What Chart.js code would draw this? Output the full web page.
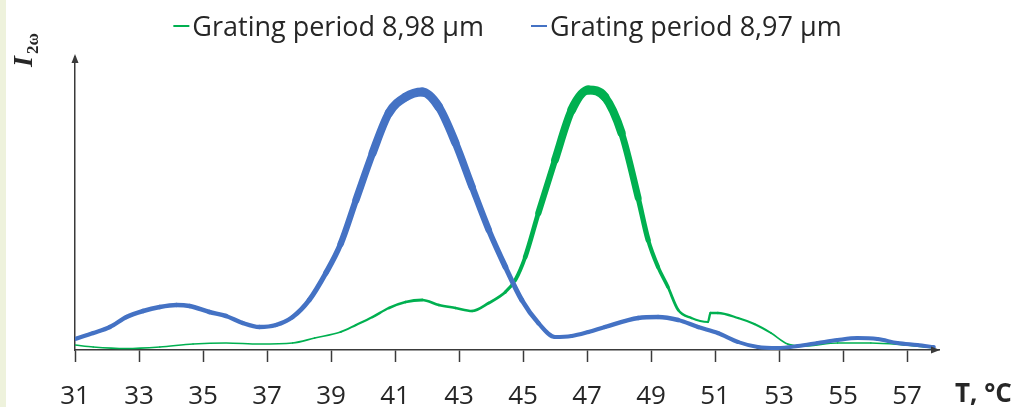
<!DOCTYPE html>
<html>
<head>
<meta charset="utf-8">
<script src="https://cdn.jsdelivr.net/npm/chart.js@4/dist/chart.umd.min.js"></script>
<style>
  html, body { margin: 0; padding: 0; background: #fff; }
  #wrap { position: relative; width: 1015px; height: 407px; }
  #strip { position: absolute; left: 0; top: 0; width: 6px; height: 407px; background: #eef2dc; }
</style>
</head>
<body>
<div id="wrap">
  <div id="strip"></div>
  <canvas id="myChart"></canvas>
</div>
<script>
// Werte (Temperatur in °C, Intensitaet in willkuerlichen Einheiten)
const xTicks = [31, 33, 35, 37, 39, 41, 43, 45, 47, 49, 51, 53, 55, 57];

const labelGreen = 'Grating period 8,98 µm';
const tGreen = [31.00, 31.57, 32.61, 33.65, 34.69, 35.72, 36.76, 37.80, 38.49, 39.30, 39.78, 40.30, 40.81, 41.33, 41.85,
  42.37, 42.89, 43.41, 43.93, 44.45, 44.76, 45.07, 45.48, 46.00, 46.52, 47.04, 47.56, 48.08, 48.60, 48.91,
  49.22, 49.53, 49.85, 50.26, 50.78, 50.86, 51.09, 51.72, 52.23, 52.75, 53.27, 53.79, 54.83, 55.87, 56.91, 57.84];
const iGreen = [5, 3, 1.5, 3, 6, 7, 6, 7, 12, 18, 25, 33, 42, 48, 50,
  45, 42, 39, 47, 58, 70, 93, 137, 190, 240, 260, 253, 217, 152, 110,
  83, 63, 40, 32, 28, 37, 37, 32, 26, 17, 6, 4, 7, 7, 5, 2];

const labelBlue = 'Grating period 8,97 µm';
const tBlue = [31.00, 31.57, 32.09, 32.61, 33.13, 33.65, 34.17, 34.58, 35.20, 35.72, 36.24, 36.76, 37.28, 37.80, 38.32,
  38.84, 39.30, 39.78, 40.30, 40.81, 41.33, 41.85, 42.37, 42.89, 43.41, 43.93, 44.45, 44.96, 45.48, 46.00,
  46.52, 47.04, 47.56, 48.60, 49.22, 49.85, 50.47, 51.09, 51.72, 52.34, 52.96, 53.59, 54.21, 54.83, 55.45,
  56.08, 56.70, 57.32, 57.84];
const iBlue = [11, 17, 23, 33, 39, 43, 45, 44, 38, 34, 27, 23, 25, 33, 50,
  77, 106, 150, 197, 237, 253, 258, 243, 207, 163, 120, 83, 50, 27, 13,
  14, 18, 23, 32, 33, 30, 23, 17, 8, 3, 2, 4, 7, 10, 12,
  11, 7, 5, 3];

const greenColor = '#00b050';
const blueColor = '#4472c4';
const axisColor = '#3a3a3a';
const textColor = '#262626';

function toPoints(xs, ys) {
  return xs.map((x, i) => ({ x: x, y: ys[i] }));
}

// Achsenpfeile, Legende und Achsentitel
const decor = {
  id: 'decor',
  afterDraw(chart) {
    const ctx = chart.ctx;
    const a = chart.chartArea;
    ctx.save();
    ctx.fillStyle = axisColor;
    ctx.beginPath();
    ctx.moveTo(a.left, a.top - 3);
    ctx.lineTo(a.left - 3.5, a.top + 6);
    ctx.lineTo(a.left + 3.5, a.top + 6);
    ctx.closePath();
    ctx.fill();
    ctx.beginPath();
    ctx.moveTo(a.right + 1, a.bottom);
    ctx.lineTo(a.right - 8, a.bottom - 3.5);
    ctx.lineTo(a.right - 8, a.bottom + 3.5);
    ctx.closePath();
    ctx.fill();

    // Legende
    ctx.font = '27px "Open Sans"';
    ctx.textBaseline = 'alphabetic';
    const dash = 16, gap = 3, between = 47;
    const items = chart.data.datasets.map(ds => ({ text: ds.label, color: ds.borderColor, w: ctx.measureText(ds.label).width }));
    let total = 0;
    items.forEach((it, i) => { total += dash + gap + it.w + (i > 0 ? between : 0); });
    let x = (chart.width - total) / 2;
    items.forEach(it => {
      ctx.fillStyle = it.color;
      ctx.fillRect(x, 25, dash, 2);
      ctx.fillStyle = textColor;
      ctx.fillText(it.text, x + dash + gap, 35.5);
      x += dash + gap + it.w + between;
    });

    // x-Achsentitel
    ctx.font = 'bold 26px "Open Sans"';
    ctx.fillStyle = textColor;
    ctx.fillText('T, °C', 955, 402);

    // y-Achsentitel I_2w
    ctx.translate(32, 67);
    ctx.rotate(-Math.PI / 2);
    ctx.font = 'bold italic 28px "Liberation Serif"';
    ctx.fillText('I', 0, 0);
    ctx.font = 'bold 17px "Liberation Serif"';
    ctx.fillText('2ω', 13, 6);
    ctx.restore();
  }
};

const config = {
  type: 'line',
  data: {
    datasets: [{
      label: labelGreen,
      data: toPoints(tGreen, iGreen),
      borderColor: greenColor,
      backgroundColor: greenColor,
      borderWidth: 2,
      borderCapStyle: 'round',
      pointRadius: 0,
      cubicInterpolationMode: 'monotone',
      order: 2,
      segment: {
        borderWidth: c => 1.3 + (c.p0.parsed.y + c.p1.parsed.y) / 66
      }
    }, {
      label: labelBlue,
      data: toPoints(tBlue, iBlue),
      borderColor: blueColor,
      backgroundColor: blueColor,
      borderWidth: 4,
      borderCapStyle: 'round',
      pointRadius: 0,
      cubicInterpolationMode: 'monotone',
      order: 1,
      segment: {
        borderWidth: c => 3.8 + (c.p0.parsed.y + c.p1.parsed.y) / 100
      }
    }]
  },
  options: {
    responsive: true,
    maintainAspectRatio: false,
    animation: false,
    layout: { padding: { top: 57, right: 76, left: 0, bottom: 0 } },
    plugins: {
      legend: { display: false },
      tooltip: { enabled: false }
    },
    scales: {
      x: {
        type: 'linear',
        min: 31,
        max: 58,
        afterBuildTicks: s => { s.ticks = xTicks.map(v => ({ value: v })); },
        afterFit: s => { s.height = 57; },
        grid: { display: true, drawOnChartArea: false, drawTicks: true, tickLength: 12, tickColor: axisColor, tickWidth: 1.5 },
        border: { display: true, color: axisColor, width: 1.5 },
        ticks: { color: textColor, font: { family: 'Open Sans', size: 26 }, padding: 19, maxRotation: 0, autoSkip: false }
      },
      y: {
        min: 0,
        max: 293,
        afterFit: s => { s.width = 75; },
        grid: { display: false },
        border: { display: true, color: axisColor, width: 1.5 },
        ticks: { display: false }
      }
    }
  },
  plugins: [decor]
};

const ctx = document.getElementById('myChart').getContext('2d');
const myChart = new Chart(ctx, config);
</script>
</body>
</html>
